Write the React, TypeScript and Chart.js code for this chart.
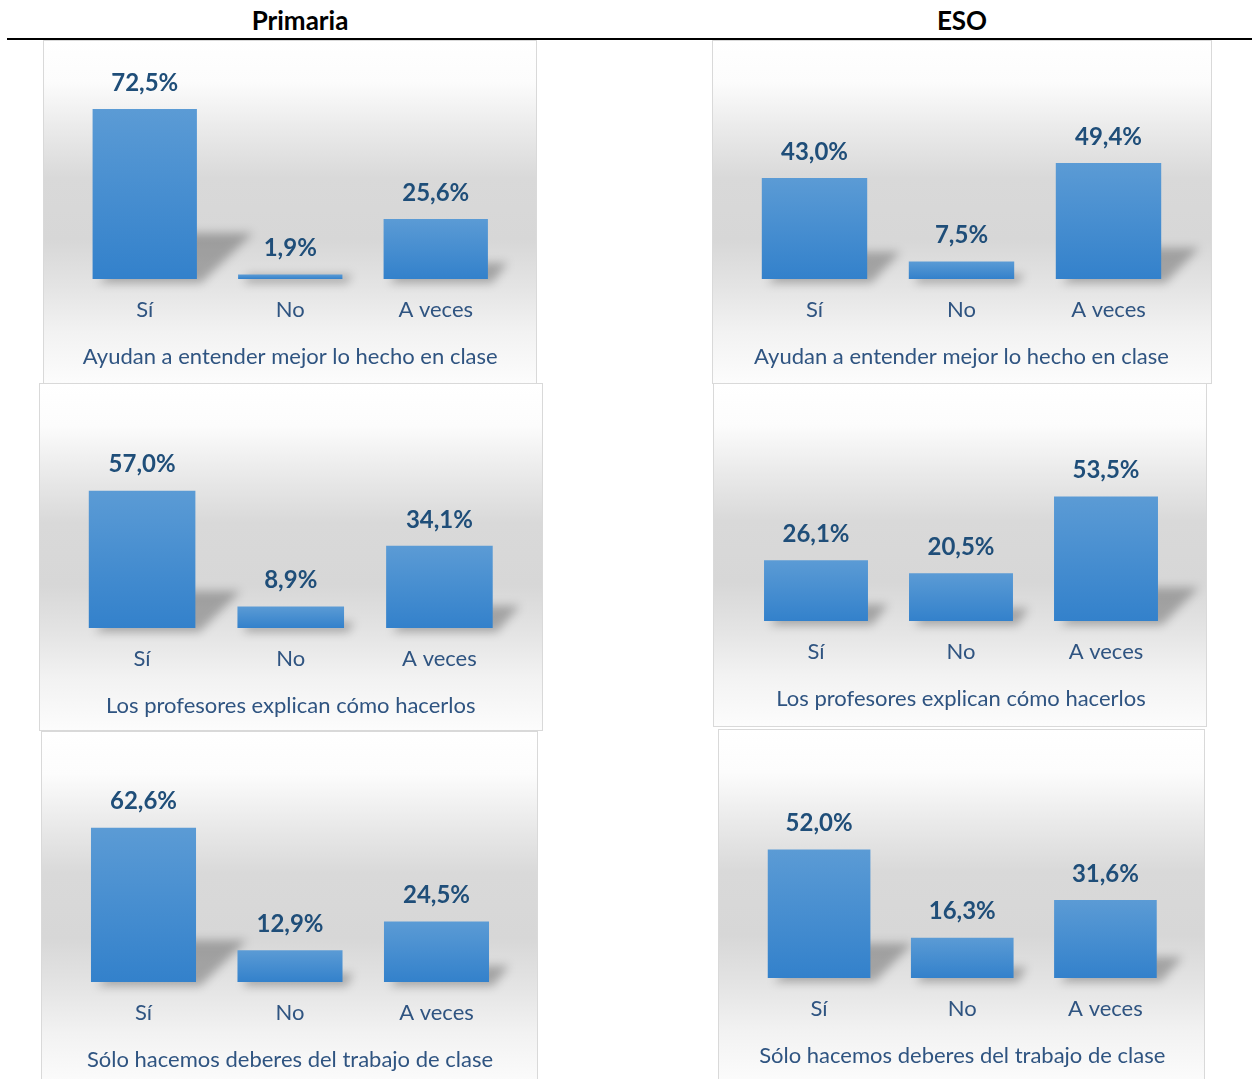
import React, { useEffect, useRef } from "react";
import { Chart, registerables } from "chart.js";

Chart.register(...registerables);

// ---------- data ----------
const categories = ["Sí", "No", "A veces"];
const columnHeaders = ["Primaria", "ESO"];
const chartTitles = [
  "Ayudan a entender mejor lo hecho en clase",
  "Los profesores explican cómo hacerlos",
  "Sólo hacemos deberes del trabajo de clase",
];
const primariaAyudan = [72.5, 1.9, 25.6];
const esoAyudan = [43.0, 7.5, 49.4];
const primariaExplican = [57.0, 8.9, 34.1];
const esoExplican = [26.1, 20.5, 53.5];
const primariaDeberes = [62.6, 12.9, 24.5];
const esoDeberes = [52.0, 16.3, 31.6];

const panelSeries = [primariaAyudan, esoAyudan, primariaExplican, esoExplican, primariaDeberes, esoDeberes];
const panelTitles = [chartTitles[0], chartTitles[0], chartTitles[1], chartTitles[1], chartTitles[2], chartTitles[2]];
const axisMax = [80, 60, 70, 60, 70, 60];

// ---------- layout (page pixels) ----------
const panelLayout = [
  { x: 43, y: 40, w: 494, h: 344, plotL: 72, plotR: 508.5, base: 279, ppu: 2.345 },
  { x: 712, y: 40, w: 500, h: 344, plotL: 741, plotR: 1182, base: 279, ppu: 2.348 },
  { x: 39, y: 383, w: 504, h: 348, plotL: 67.75, plotR: 513.75, base: 628, ppu: 2.41 },
  { x: 713, y: 383, w: 494, h: 344, plotL: 743.5, plotR: 1178.5, base: 621, ppu: 2.325 },
  { x: 41, y: 731, w: 497, h: 356, plotL: 70.25, plotR: 509.75, base: 982, ppu: 2.465 },
  { x: 718, y: 729, w: 487, h: 356, plotL: 747.5, plotR: 1177, base: 978, ppu: 2.47 },
];

const FONT = "Lato, 'Open Sans', sans-serif";
const AXIS_H = 100;
const LABEL_SIZE = 22;
const VALUE_COLOR = "#1F4E79";
const LABEL_COLOR = "#2F5481";

const shadowPlugin = {
  id: "barShadow",
  beforeDatasetsDraw(chart: any) {
    const ctx = chart.ctx;
    const meta = chart.getDatasetMeta(0);
    ctx.save();
    ctx.filter = "blur(5px)";
    ctx.fillStyle = "rgba(0,0,0,0.27)";
    meta.data.forEach((bar: any) => {
      const p = bar.getProps(["x", "y", "base", "width"], true);
      const left = p.x - p.width / 2;
      const right = p.x + p.width / 2;
      const h = p.base - p.y;
      const dx = Math.max(0.33 * h, 10);
      const dy = Math.max(0.27 * h, 4);
      ctx.beginPath();
      ctx.moveTo(left + 6, p.base + 4);
      ctx.lineTo(right + 4, p.base + 4);
      ctx.lineTo(right + dx, p.base - dy);
      ctx.lineTo(left + dx, p.base - dy);
      ctx.closePath();
      ctx.fill();
    });
    ctx.restore();
  },
};

const valueLabelPlugin = {
  id: "valueLabels",
  afterDatasetsDraw(chart: any) {
    const ctx = chart.ctx;
    const meta = chart.getDatasetMeta(0);
    const values = chart.data.datasets[0].data as number[];
    ctx.save();
    ctx.font = `bold 24px ${FONT}`;
    ctx.fillStyle = VALUE_COLOR;
    ctx.textAlign = "center";
    ctx.textBaseline = "middle";
    meta.data.forEach((bar: any, i: number) => {
      const p = bar.getProps(["x", "y"], true);
      ctx.fillText(values[i].toFixed(1).replace(".", ",") + "%", p.x, p.y - 26);
    });
    ctx.restore();
  },
};

function Panel({ idx }: { idx: number }) {
  const ref = useRef<HTMLCanvasElement>(null);
  const L = panelLayout[idx];
  useEffect(() => {
    if (!ref.current) return;
    const padTop = L.base - L.y - axisMax[idx] * L.ppu;
    const padBottom = L.h - (L.base - L.y) - AXIS_H;
    const lh = LABEL_SIZE * 1.2;
    const chart = new Chart(ref.current, {
      type: "bar",
      data: {
        labels: categories,
        datasets: [
          {
            data: panelSeries[idx],
            backgroundColor: (c: any) => {
              const ch = c.chart;
              if (!ch.chartArea || c.type !== "data") return "#4A8FD3";
              const top = ch.scales.y.getPixelForValue(c.raw);
              const bottom = ch.scales.y.getPixelForValue(0);
              const g = ch.ctx.createLinearGradient(0, top, 0, bottom);
              g.addColorStop(0, "#5B9BD5");
              g.addColorStop(1, "#3381CB");
              return g;
            },
            borderWidth: 0,
            barPercentage: 0.717,
            categoryPercentage: 1,
          },
        ],
      },
      options: {
        animation: false,
        responsive: false,
        maintainAspectRatio: false,
        events: [],
        layout: {
          padding: {
            top: padTop,
            bottom: padBottom,
            left: L.plotL - L.x,
            right: L.x + L.w - L.plotR,
          },
        },
        plugins: { legend: { display: false }, tooltip: { enabled: false }, title: { display: false } },
        scales: {
          y: { display: false, min: 0, max: axisMax[idx] },
          x: {
            grid: { display: false, drawTicks: false },
            border: { display: false },
            ticks: {
              padding: 30.5 - lh / 2,
              color: LABEL_COLOR,
              font: { family: FONT, size: LABEL_SIZE, lineHeight: 1.2 },
            },
            title: {
              display: true,
              text: panelTitles[idx],
              color: LABEL_COLOR,
              font: { family: FONT, size: LABEL_SIZE, lineHeight: 1.2 },
              padding: { top: 0, bottom: AXIS_H - 77.5 - lh / 2 },
            },
            afterFit(scale: any) {
              scale.height = AXIS_H;
            },
          },
        },
      },
      plugins: [shadowPlugin, valueLabelPlugin],
    });
    return () => chart.destroy();
  }, [idx]);
  return (
    <>
      <div
        style={{
          position: "absolute",
          left: L.x,
          top: L.y,
          width: L.w,
          height: L.h,
          boxSizing: "border-box",
          border: "1.5px solid #D9D9D9",
          background:
            "linear-gradient(to bottom, #ffffff 0%, #fcfcfc 12%, #ebebeb 25%, #d9d9d9 40%, #d7d7d7 58%, #e4e4e4 72%, #f2f2f2 85%, #fcfcfc 100%)",
        }}
      />
      <canvas
        ref={ref}
        width={L.w}
        height={L.h}
        style={{ position: "absolute", left: L.x, top: L.y, width: L.w, height: L.h }}
      />
    </>
  );
}

export default function App() {
  return (
    <div
      style={{
        position: "absolute",
        left: 0,
        top: 0,
        width: 1252,
        height: 1079,
        overflow: "hidden",
        background: "#ffffff",
        fontFamily: FONT,
      }}
    >
      <div style={{ position: "absolute", left: 200, width: 200, top: 4, textAlign: "center", fontWeight: 700, fontSize: 26, lineHeight: "32px", color: "#000" }}>
        {columnHeaders[0]}
      </div>
      <div style={{ position: "absolute", left: 862, width: 200, top: 4, textAlign: "center", fontWeight: 700, fontSize: 26, lineHeight: "32px", color: "#000" }}>
        {columnHeaders[1]}
      </div>
      <div style={{ position: "absolute", left: 7, width: 1245, top: 38, height: 1.5, background: "#000" }} />
      {panelLayout.map((_, i) => (
        <Panel key={i} idx={i} />
      ))}
    </div>
  );
}
